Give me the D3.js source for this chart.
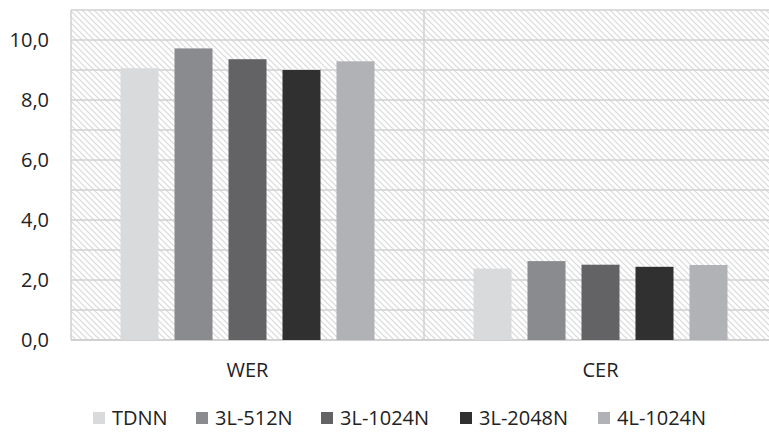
<!DOCTYPE html>
<html><head><meta charset="utf-8">
<script src="https://cdn.jsdelivr.net/npm/d3@7"></script>
<style>body{margin:0;background:#fff}svg{display:block;font-family:"Open Sans","Noto Sans",sans-serif}</style>
</head><body><svg id="c" width="769" height="432"></svg>
<script>
const categories = ["WER", "CER"];
const seriesNames = ["TDNN", "3L-512N", "3L-1024N", "3L-2048N", "4L-1024N"];
const seriesColors = ["#d9dadc", "#8a8b8f", "#636366", "#313031", "#b1b2b5"];
const TDNN = [9.06, 2.38];
const L3_512N = [9.72, 2.63];
const L3_1024N = [9.36, 2.51];
const L3_2048N = [9.0, 2.44];
const L4_1024N = [9.29, 2.50];
const seriesValues = [TDNN, L3_512N, L3_1024N, L3_2048N, L4_1024N];
const yTicks = [0, 2, 4, 6, 8, 10];

const svg = d3.select("#c");
const m = {left: 71, top: 10, right: 777, bottom: 340};
const x0 = d3.scaleBand().domain(categories).range([m.left, m.right]);
const x1 = d3.scaleBand().domain(seriesNames).range([0, x0.bandwidth()]).paddingInner(0.296).paddingOuter(0.917);
const y = d3.scaleLinear().domain([0, 11]).range([m.bottom, m.top]);

const defs = svg.append("defs");
const pat = defs.append("pattern").attr("id", "hatch").attr("patternUnits", "userSpaceOnUse")
  .attr("width", 6).attr("height", 6);
pat.append("rect").attr("width", 6).attr("height", 6).attr("fill", "#fff");
pat.append("path").attr("d", "M-1,-1 L7,7 M-1,5 L1,7 M5,-1 L7,1").attr("stroke", "#d9d9d9").attr("stroke-width", 1.2);

svg.append("rect").attr("x", m.left).attr("y", m.top).attr("width", m.right - m.left).attr("height", m.bottom - m.top)
  .attr("fill", "url(#hatch)");

// gridlines
svg.append("g").selectAll("line").data(d3.range(1, 12)).join("line")
  .attr("x1", m.left).attr("x2", m.right).attr("y1", d => y(d)).attr("y2", d => y(d))
  .attr("stroke", "#d0d0d0").attr("stroke-width", 1.5);
// category separator and plot borders
svg.append("line").attr("x1", x0("CER")).attr("x2", x0("CER")).attr("y1", m.top).attr("y2", m.bottom)
  .attr("stroke", "#d0d0d0").attr("stroke-width", 1.5);
svg.append("line").attr("x1", m.left).attr("x2", m.left).attr("y1", m.top).attr("y2", m.bottom)
  .attr("stroke", "#d0d0d0").attr("stroke-width", 1.5);
svg.append("line").attr("x1", m.left).attr("x2", m.right).attr("y1", y(0)).attr("y2", y(0))
  .attr("stroke", "#d0d0d0").attr("stroke-width", 2);

// bars
const groups = svg.append("g").selectAll("g").data(categories).join("g")
  .attr("transform", d => `translate(${x0(d)},0)`);
groups.selectAll("rect").data((c, ci) => seriesNames.map((s, si) => ({s, si, v: seriesValues[si][ci]}))).join("rect")
  .attr("x", d => x1(d.s)).attr("width", x1.bandwidth())
  .attr("y", d => y(d.v)).attr("height", d => y(0) - y(d.v))
  .attr("fill", d => seriesColors[d.si]);

// y axis labels
const fmt = v => v.toFixed(1).replace(".", ",");
svg.append("g").selectAll("text").data(yTicks).join("text")
  .attr("x", 49).attr("y", d => y(d)).attr("dy", "0.36em").attr("text-anchor", "end")
  .attr("font-size", 20).attr("fill", "#222").text(fmt);

// x axis labels
svg.append("g").selectAll("text").data(categories).join("text")
  .attr("x", d => x0(d) + x0.bandwidth() / 2).attr("y", 370).attr("dy", "0.36em").attr("text-anchor", "middle")
  .attr("font-size", 20).attr("fill", "#222").text(d => d);

// legend
const legX = [93, 196, 321, 460, 598];
const leg = svg.append("g").selectAll("g").data(seriesNames).join("g")
  .attr("transform", (d, i) => `translate(${legX[i]},418)`);
leg.append("rect").attr("x", 0).attr("y", -6).attr("width", 12).attr("height", 12).attr("fill", (d, i) => seriesColors[i]);
leg.append("text").attr("x", 19).attr("y", 0).attr("dy", "0.36em").attr("font-size", 20).attr("fill", "#222").text(d => d);
</script></body></html>
